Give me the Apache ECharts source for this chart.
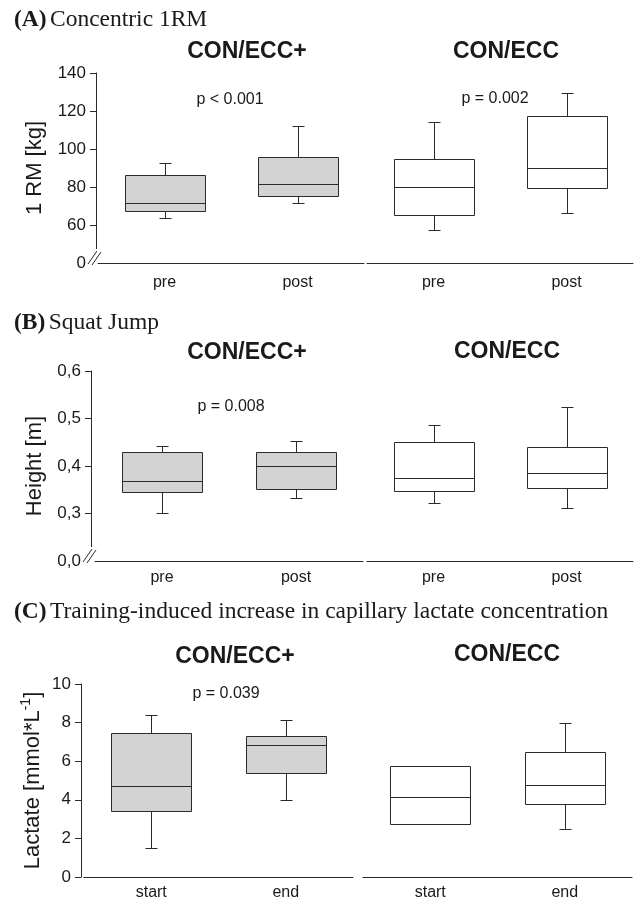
<!DOCTYPE html>
<html>
<head>
<meta charset="utf-8">
<script src="https://cdn.jsdelivr.net/npm/echarts@6/dist/echarts.min.js"></script>
<style>
  html, body { margin: 0; padding: 0; background: #fff; }
  #chart { width: 635px; height: 902px; }
</style>
</head>
<body>
<div id="chart"></div>
<script>
// box data: [min, Q1, median, Q3, max]
var catPrePost = ['pre', 'post'];
var catStartEnd = ['start', 'end'];

var rmConEccPlus = [[63.9, 67.5, 71.6, 86.5, 92.5], [71.6, 75.1, 81.4, 95.6, 112.3]];
var rmConEcc = [[57.2, 65.3, 80.2, 94.9, 114.4], [66.5, 79.5, 90.2, 117.5, 129.3]];

var sjConEccPlus = [[0.302, 0.345, 0.369, 0.429, 0.442], [0.333, 0.352, 0.400, 0.429, 0.453]];
var sjConEcc = [[0.322, 0.347, 0.374, 0.450, 0.486], [0.312, 0.354, 0.385, 0.440, 0.524]];

var lacConEccPlus = [[1.48, 3.43, 4.72, 7.47, 8.40], [3.98, 5.38, 6.83, 7.28, 8.14]];
var lacConEcc = [[2.73, 2.73, 4.17, 5.76, 5.76], [2.48, 3.78, 4.78, 6.48, 8.00]];

var pValues = ['p < 0.001', 'p = 0.002', 'p = 0.008', 'p = 0.039'];

var LINE = '#2a2a2a';
var TEXT = '#1a1a1a';
var GREY = '#d3d3d3';
var SANS = '"Liberation Sans", Arial, sans-serif';
var SERIF = '"Liberation Serif", "Times New Roman", serif';
var BOX_W = 80;
var CAP_W = 12;

function px(v) { return Math.round(v) + 0.5; }

function makeRender(fill) {
  return function (params, api) {
    var cat = api.value(0);
    var x = px(api.coord([cat, api.value(3)])[0]);
    var yMin = px(api.coord([cat, api.value(1)])[1]);
    var yQ1 = px(api.coord([cat, api.value(2)])[1]);
    var yMed = px(api.coord([cat, api.value(3)])[1]);
    var yQ3 = px(api.coord([cat, api.value(4)])[1]);
    var yMax = px(api.coord([cat, api.value(5)])[1]);
    var st = { stroke: LINE, lineWidth: 1, fill: null };
    var h = BOX_W / 2, c = CAP_W / 2;
    var kids = [];
    if (yMax < yQ3) {
      kids.push({ type: 'line', shape: { x1: x, y1: yQ3, x2: x, y2: yMax }, style: st });
      kids.push({ type: 'line', shape: { x1: x - c, y1: yMax, x2: x + c, y2: yMax }, style: st });
    }
    if (yMin > yQ1) {
      kids.push({ type: 'line', shape: { x1: x, y1: yQ1, x2: x, y2: yMin }, style: st });
      kids.push({ type: 'line', shape: { x1: x - c, y1: yMin, x2: x + c, y2: yMin }, style: st });
    }
    kids.push({ type: 'rect', shape: { x: x - h, y: yQ3, width: BOX_W, height: yQ1 - yQ3 },
      style: { fill: fill, stroke: LINE, lineWidth: 1 } });
    kids.push({ type: 'line', shape: { x1: x - h, y1: yMed, x2: x + h, y2: yMed }, style: st });
    return { type: 'group', children: kids };
  };
}

function rows(boxes) {
  return boxes.map(function (b, i) { return [i].concat(b); });
}

// grids: A left/right, B left/right, C left/right
var grids = [
  { left: 98, top: 73, width: 266, height: 190 },
  { left: 367, top: 73, width: 266, height: 190 },
  { left: 95, top: 371, width: 268, height: 190 },
  { left: 367, top: 371, width: 266, height: 190 },
  { left: 84, top: 684, width: 269, height: 193 },
  { left: 363, top: 684, width: 269, height: 193 }
];

function xAxisFor(i, cats, margin) {
  return {
    type: 'category', gridIndex: i, data: cats, boundaryGap: true,
    axisLine: { lineStyle: { color: LINE, width: 1 } },
    axisTick: { alignWithLabel: true, length: 4, lineStyle: { color: LINE } },
    axisLabel: { color: TEXT, fontFamily: SANS, fontSize: 16, margin: margin },
    splitLine: { show: false }
  };
}

function yAxisFor(i, min, max, interval, show, fmt, name, gap, offset, rich) {
  return {
    type: 'value', gridIndex: i, min: min, max: max, interval: interval,
    show: show, offset: offset || 0,
    name: show ? name : '', nameLocation: 'middle', nameGap: gap, nameRotate: 90,
    nameTextStyle: { color: TEXT, fontFamily: SANS, fontSize: 22, rich: rich },
    axisLine: { show: true, lineStyle: { color: LINE, width: 1 } },
    axisTick: { show: true, length: 6, lineStyle: { color: LINE } },
    axisLabel: { color: TEXT, fontFamily: SANS, fontSize: 17, margin: 10, formatter: fmt },
    splitLine: { show: false }
  };
}

var fmtA = function (v) { return v === 40 ? '0' : String(v); };
var fmtB = function (v) { return v < 0.25 ? '0,0' : v.toFixed(1).replace('.', ','); };
var fmtC = function (v) { return String(v); };

var lacRich = {
  a: { fontFamily: SANS, fontSize: 22, color: TEXT, lineHeight: 28 },
  s: { fontFamily: SANS, fontSize: 14, color: TEXT, verticalAlign: 'top', lineHeight: 14 }
};

function label(text, x, y, font, align) {
  return {
    type: 'text', x: x, y: y, z: 100,
    style: { text: text, font: font, fill: TEXT, textAlign: align || 'center', align: align || 'center',
      textVerticalAlign: 'middle', verticalAlign: 'middle' }
  };
}

function panelTitle(letter, rest, y) {
  return {
    type: 'text', x: 14, y: y, z: 100,
    style: {
      text: '{b|(' + letter + ')} {n|' + rest + '}',
      textAlign: 'left', align: 'left', textVerticalAlign: 'middle', verticalAlign: 'middle',
      rich: {
        b: { fontFamily: SERIF, fontWeight: 'bold', fontSize: 23.5, fill: TEXT, color: TEXT },
        n: { fontFamily: SERIF, fontSize: 23.5, fill: TEXT, color: TEXT }
      }
    }
  };
}

function axisBreak(ax, ay) {
  return [
    { type: 'rect', z: 100, shape: { x: ax - 8, y: ay - 14, width: 9, height: 18 }, style: { fill: '#fff' } },
    { type: 'line', z: 101, shape: { x1: ax - 8, y1: ay + 1, x2: ax + 1, y2: ay - 12 }, style: { stroke: LINE, lineWidth: 1 } },
    { type: 'line', z: 101, shape: { x1: ax - 4, y1: ay + 2, x2: ax + 5, y2: ay - 11 }, style: { stroke: LINE, lineWidth: 1 } }
  ];
}

var titleFont = 'bold 23px ' + SANS;
var pFont = '16px ' + SANS;

var graphics = [
  panelTitle('A', 'Concentric 1RM', 20),
  panelTitle('B', 'Squat Jump', 323),
  panelTitle('C', 'Training-induced increase in capillary lactate concentration', 612),
  label('CON/ECC+', 247, 52, titleFont),
  label('CON/ECC', 506, 52, titleFont),
  label('CON/ECC+', 247, 353, titleFont),
  label('CON/ECC', 507, 352, titleFont),
  label('CON/ECC+', 235, 657, titleFont),
  label('CON/ECC', 507, 655, titleFont),
  label(pValues[0], 230, 100, pFont),
  label(pValues[1], 495, 99, pFont),
  label(pValues[2], 231, 407, pFont),
  label(pValues[3], 226, 694, pFont)
].concat(axisBreak(96, 263)).concat(axisBreak(91, 561));

var option = {
  backgroundColor: '#fff',
  animation: false,
  grid: grids,
  xAxis: [
    xAxisFor(0, catPrePost, 12), xAxisFor(1, catPrePost, 12),
    xAxisFor(2, catPrePost, 9), xAxisFor(3, catPrePost, 9),
    xAxisFor(4, catStartEnd, 8), xAxisFor(5, catStartEnd, 8)
  ],
  yAxis: [
    yAxisFor(0, 40, 140, 20, true, fmtA, '1 RM [kg]', 50, 2),
    yAxisFor(1, 40, 140, 20, false, fmtA),
    yAxisFor(2, 0.2, 0.6, 0.1, true, fmtB, 'Height [m]', 45, 4),
    yAxisFor(3, 0.2, 0.6, 0.1, false, fmtB),
    yAxisFor(4, 0, 10, 2, true, fmtC, '{a|Lactate [mmol*L}{s|-1}{a|]}', 34, 3, lacRich),
    yAxisFor(5, 0, 10, 2, false, fmtC)
  ],
  series: [
    { type: 'custom', xAxisIndex: 0, yAxisIndex: 0, renderItem: makeRender(GREY), encode: { x: 0, y: [1, 2, 3, 4, 5] }, data: rows(rmConEccPlus) },
    { type: 'custom', xAxisIndex: 1, yAxisIndex: 1, renderItem: makeRender('#fff'), encode: { x: 0, y: [1, 2, 3, 4, 5] }, data: rows(rmConEcc) },
    { type: 'custom', xAxisIndex: 2, yAxisIndex: 2, renderItem: makeRender(GREY), encode: { x: 0, y: [1, 2, 3, 4, 5] }, data: rows(sjConEccPlus) },
    { type: 'custom', xAxisIndex: 3, yAxisIndex: 3, renderItem: makeRender('#fff'), encode: { x: 0, y: [1, 2, 3, 4, 5] }, data: rows(sjConEcc) },
    { type: 'custom', xAxisIndex: 4, yAxisIndex: 4, renderItem: makeRender(GREY), encode: { x: 0, y: [1, 2, 3, 4, 5] }, data: rows(lacConEccPlus) },
    { type: 'custom', xAxisIndex: 5, yAxisIndex: 5, renderItem: makeRender('#fff'), encode: { x: 0, y: [1, 2, 3, 4, 5] }, data: rows(lacConEcc) }
  ],
  graphic: graphics
};

var chart = echarts.init(document.getElementById('chart'));
chart.setOption(option);
</script>
</body>
</html>
